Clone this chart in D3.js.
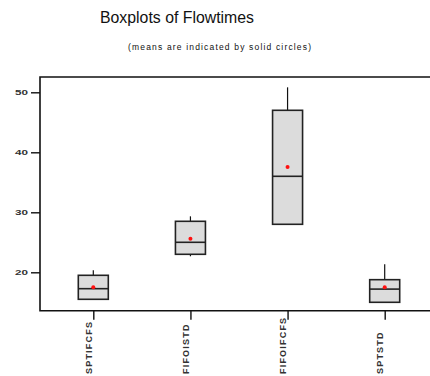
<!DOCTYPE html>
<html>
<head>
<meta charset="utf-8">
<script src="https://cdn.jsdelivr.net/npm/d3@7"></script>
<style>
  html, body { margin: 0; padding: 0; background: #fff; }
  svg { display: block; }
</style>
</head>
<body>
<svg id="chart" width="430" height="376"></svg>
<script>
// ---- data ----
const categories = ["SPTIFCFS", "FIFOISTD", "FIFOIFCFS", "SPTSTD"];
const mins    = [15.5, 22.67, 28.0, 15.0];
const q1s     = [15.5, 23.0, 28.0, 15.0];
const medians = [17.27, 25.0, 36.0, 17.2];
const q3s     = [19.5, 28.5, 47.0, 18.77];
const maxs    = [20.33, 29.33, 50.83, 21.33];
const means   = [17.5, 25.6, 37.55, 17.5];
const yTicks  = [20, 30, 40, 50];
const titleText = "Boxplots of Flowtimes";
const subtitleText = "(means are indicated by  solid circles)";

const rows = categories.map((c, i) => ({
  cat: c, min: mins[i], q1: q1s[i], med: medians[i], q3: q3s[i], max: maxs[i], mean: means[i]
}));

const svg = d3.select("#chart");
const frame = { left: 40, top: 77, bottom: 310.7, right: 445 };

const x = d3.scalePoint().domain(categories).range([93.3, 384.7]);
const y = d3.scaleLinear().domain([13.6, 52.55]).range([frame.bottom, frame.top]);

// title
svg.append("text")
  .attr("x", 100).attr("y", 23)
  .attr("font-family", "Liberation Sans, Arial, sans-serif")
  .attr("font-size", 16)
  .attr("textLength", 154).attr("lengthAdjust", "spacingAndGlyphs")
  .attr("fill", "#111")
  .text(titleText);

svg.append("text")
  .attr("x", 128).attr("y", 50)
  .attr("font-family", "Liberation Sans, Arial, sans-serif")
  .attr("font-size", 8.5)
  .attr("textLength", 183).attr("lengthAdjust", "spacing")
  .attr("fill", "#111")
  .text(subtitleText);

// frame
svg.append("path")
  .attr("d", `M${frame.right},${frame.top}H${frame.left}V${frame.bottom}H${frame.right}`)
  .attr("fill", "none").attr("stroke", "#111").attr("stroke-width", 1.6);

// y axis
const yAxis = d3.axisLeft(y).tickValues(yTicks).tickSize(9).tickPadding(3).tickFormat(d3.format("d"));
const gy = svg.append("g").attr("transform", `translate(${frame.left},0)`).call(yAxis);
gy.select(".domain").remove();
gy.selectAll(".tick line").attr("stroke", "#111").attr("stroke-width", 1.4);
gy.selectAll(".tick text")
  .attr("font-family", "Liberation Sans, Arial, sans-serif")
  .attr("font-size", 8).attr("font-weight", "bold")
  .attr("fill", "#333")
  .attr("textLength", 13).attr("lengthAdjust", "spacingAndGlyphs");

// x axis
const xAxis = d3.axisBottom(x).tickSize(9).tickFormat("");
const gx = svg.append("g").attr("transform", `translate(0,${frame.bottom})`).call(xAxis);
gx.select(".domain").remove();
gx.selectAll(".tick line").attr("stroke", "#111").attr("stroke-width", 1.4);

// rotated category labels
svg.append("g").selectAll("text").data(categories).join("text")
  .attr("transform", d => `translate(${x(d) - 1.5},374) rotate(-90)`)
  .attr("text-anchor", "start")
  .attr("font-family", "Liberation Sans, Arial, sans-serif")
  .attr("font-size", 9).attr("font-weight", "bold")
  .attr("letter-spacing", 1.2)
  .attr("fill", "#333")
  .text(d => d);

// boxes
const boxW = 30;
const g = svg.append("g");
const b = g.selectAll("g.box").data(rows).join("g").attr("class", "box");

b.append("line")
  .attr("x1", d => x(d.cat)).attr("x2", d => x(d.cat))
  .attr("y1", d => y(d.q3)).attr("y2", d => y(d.max))
  .attr("stroke", "#111").attr("stroke-width", 1.2);
b.append("line")
  .attr("x1", d => x(d.cat)).attr("x2", d => x(d.cat))
  .attr("y1", d => y(d.q1)).attr("y2", d => y(d.min))
  .attr("stroke", "#111").attr("stroke-width", 1.2);
b.append("rect")
  .attr("x", d => x(d.cat) - boxW / 2).attr("width", boxW)
  .attr("y", d => y(d.q3)).attr("height", d => y(d.q1) - y(d.q3))
  .attr("fill", "#dcdcdc").attr("stroke", "#222").attr("stroke-width", 1.6);
b.append("line")
  .attr("x1", d => x(d.cat) - boxW / 2).attr("x2", d => x(d.cat) + boxW / 2)
  .attr("y1", d => y(d.med)).attr("y2", d => y(d.med))
  .attr("stroke", "#222").attr("stroke-width", 1.6);
b.append("circle")
  .attr("cx", d => x(d.cat)).attr("cy", d => y(d.mean))
  .attr("r", 2).attr("fill", "#ff1010");
</script>
</body>
</html>
